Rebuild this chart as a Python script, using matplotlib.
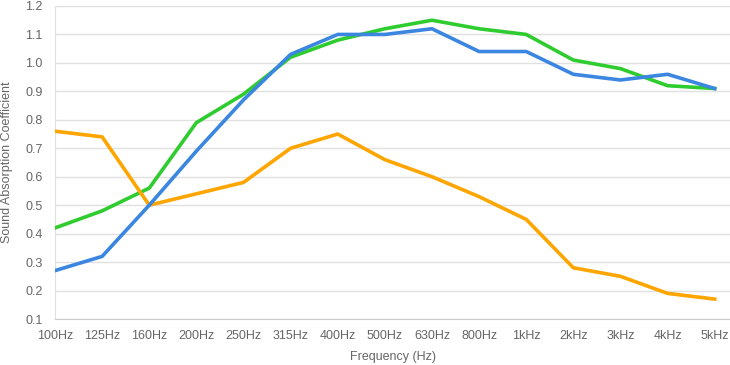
import matplotlib
matplotlib.use("Agg")
import matplotlib.pyplot as plt

plt.rcParams['font.family'] = ['Liberation Sans', 'DejaVu Sans']

categories = ["100Hz", "125Hz", "160Hz", "200Hz", "250Hz", "315Hz", "400Hz", "500Hz",
              "630Hz", "800Hz", "1kHz", "2kHz", "3kHz", "4kHz", "5kHz"]
green_vals = [0.42, 0.48, 0.56, 0.79, 0.89, 1.02, 1.08, 1.12, 1.15, 1.12, 1.10, 1.01, 0.98, 0.92, 0.91]
orange_vals = [0.76, 0.74, 0.50, 0.54, 0.58, 0.70, 0.75, 0.66, 0.60, 0.53, 0.45, 0.28, 0.25, 0.19, 0.17]
blue_vals = [0.27, 0.32, 0.50, 0.69, 0.87, 1.03, 1.10, 1.10, 1.12, 1.04, 1.04, 0.96, 0.94, 0.96, 0.91]
y_ticks = [0.1, 0.2, 0.3, 0.4, 0.5, 0.6, 0.7, 0.8, 0.9, 1.0, 1.1, 1.2]

W, H = 730, 365
fig = plt.figure(figsize=(W / 100, H / 100), dpi=100)
left, right, top, bottom = 55, 730, 6, 319
ax = fig.add_axes([left / W, 1 - bottom / H, (right - left) / W, (bottom - top) / H])

x = list(range(len(categories)))
ax.plot(x, green_vals, color="#2ECC2E", lw=2.6, solid_joinstyle="round", zorder=3)
ax.plot(x, orange_vals, color="#FFA500", lw=2.6, solid_joinstyle="round", zorder=3)
ax.plot(x, blue_vals, color="#3A86E0", lw=2.6, solid_joinstyle="round", zorder=4)

n = len(categories) - 1
ax.set_xlim(0, n + (right - 714.7) / ((714.7 - left) / n))
ax.set_ylim(0.1, 1.2)
ax.set_yticks(y_ticks)
ax.set_yticklabels([f"{v:.1f}" for v in y_ticks])
ax.set_xticks(x)
ax.set_xticklabels(categories)
ax.grid(axis="y", color="#E0E0E0", lw=1)
ax.set_axisbelow(True)
for s in ["top", "right"]:
    ax.spines[s].set_visible(False)
ax.spines["left"].set_color("#E0E0E0")
ax.spines["bottom"].set_color("#CCCCCC")
ax.tick_params(axis="both", length=0, colors="#666666", labelsize=9)
ax.tick_params(axis="y", pad=9)
ax.tick_params(axis="x", pad=8)
ax.set_xlabel("Frequency (Hz)", color="#666666", fontsize=9, labelpad=6.5)
ax.set_ylabel("Sound Absorption Coefficient", color="#666666", fontsize=9, labelpad=9)

fig.savefig("out.png", dpi=100)
